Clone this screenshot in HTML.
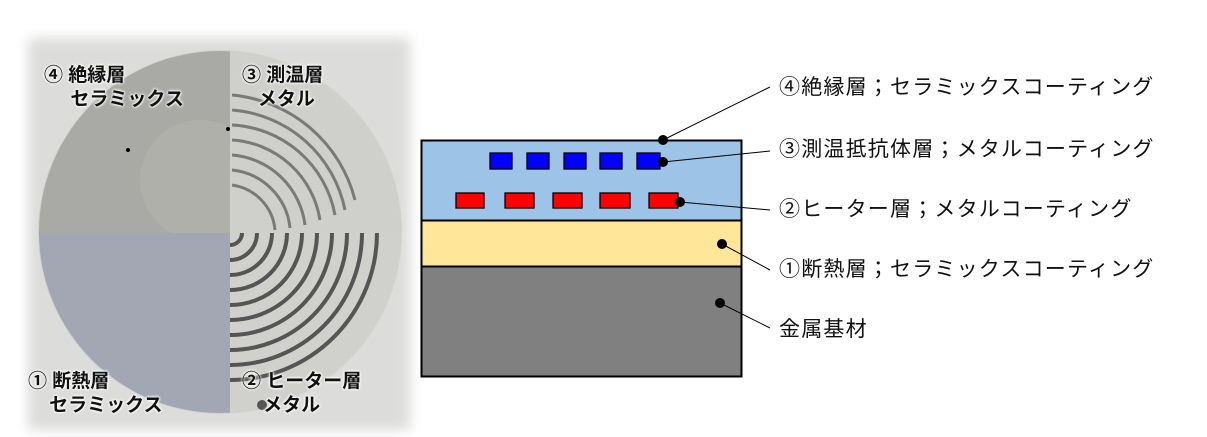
<!DOCTYPE html>
<html><head><meta charset="utf-8"><style>
body{margin:0;width:1207px;height:437px;background:#fff;position:relative;overflow:hidden;font-family:"Liberation Sans","Noto Sans CJK JP",sans-serif}
.lbl{position:absolute;font-size:21px;letter-spacing:1.2px;color:#111;white-space:nowrap;line-height:26px}
.pl{position:absolute;font-weight:bold;font-size:19px;color:#111;line-height:24px;text-shadow:0 0 3px #fff,0 0 3px #fff,0 0 2px #fff}
</style></head><body>
<svg width="1207" height="437" style="position:absolute;left:0;top:0">
<defs>
<filter id="b"><feGaussianBlur stdDeviation="6"/></filter>
<clipPath id="c"><circle cx="220" cy="232" r="181"/></clipPath>
</defs>
<rect x="28" y="38" width="382" height="392" fill="#dcdcda" filter="url(#b)"/>
<circle cx="220" cy="232" r="182" fill="#d2d2cf"/>
<g clip-path="url(#c)">
<rect x="30" y="40" width="200" height="193" fill="#a9a9a5"/>
<circle cx="200" cy="180" r="60" fill="#b5b5ae" opacity=".6"/>
<rect x="230" y="40" width="200" height="193" fill="#cfcfcc"/>
<rect x="30" y="233" width="200" height="200" fill="#a3a7b3"/>
<rect x="230" y="233" width="200" height="200" fill="#d0d0cc"/>
<g fill="none" stroke="#7a7a78" stroke-width="3">
<path d="M232 95 A140 140 0 0 1 355 200"/><path d="M232 110 A125 125 0 0 1 345 210"/><path d="M232 125 A110 110 0 0 1 335 215"/><path d="M232 140 A95 95 0 0 1 320 220"/><path d="M232 155 A80 80 0 0 1 305 225"/><path d="M232 170 A65 65 0 0 1 290 228"/><path d="M232 185 A50 50 0 0 1 275 230"/>
</g>
<g fill="none" stroke="#555" stroke-width="4">
<path d="M230 245 A12 12 0 0 0 242 233"/><path d="M230 260 A27 27 0 0 0 257 233"/><path d="M230 275 A42 42 0 0 0 272 233"/><path d="M230 290 A57 57 0 0 0 287 233"/><path d="M230 305 A72 72 0 0 0 302 233"/><path d="M230 320 A87 87 0 0 0 317 233"/><path d="M230 335 A102 102 0 0 0 332 233"/><path d="M230 350 A117 117 0 0 0 347 233"/><path d="M230 365 A132 132 0 0 0 362 233"/><path d="M230 380 A147 147 0 0 0 377 233"/>
</g>
</g>
<circle cx="128" cy="150" r="2" fill="#000"/><circle cx="228" cy="129" r="2" fill="#000"/>
<circle cx="262" cy="405" r="5" fill="#555"/>
<rect x="421.5" y="140.5" width="320" height="236" fill="#808080" stroke="#000" stroke-width="2"/>
<rect x="421.5" y="140.5" width="320" height="80" fill="#9dc3e6" stroke="#000" stroke-width="2"/>
<rect x="421.5" y="220.5" width="320" height="46" fill="#ffe699" stroke="#000" stroke-width="2"/>
<g fill="#0000ff" stroke="#000" stroke-width="1.3">
<rect x="490" y="153" width="22" height="16"/><rect x="527" y="153" width="22" height="16"/><rect x="564" y="153" width="22" height="16"/><rect x="600" y="153" width="22" height="16"/><rect x="637" y="153" width="23" height="16"/>
</g>
<g fill="#ff0000" stroke="#000" stroke-width="1.3">
<rect x="456" y="193" width="28" height="15"/><rect x="505" y="193" width="29" height="15"/><rect x="553" y="193" width="29" height="15"/><rect x="600" y="193" width="30" height="15"/><rect x="649" y="193" width="29" height="15"/>
</g>
<g stroke="#000" stroke-width="1">
<line x1="663" y1="140" x2="770" y2="87"/><line x1="663" y1="162" x2="770" y2="151"/><line x1="680" y1="202" x2="770" y2="210"/><line x1="722" y1="244" x2="770" y2="270"/><line x1="720" y1="303" x2="770" y2="328"/>
</g>
<g fill="#000"><circle cx="663" cy="140" r="5"/><circle cx="663" cy="162" r="5"/><circle cx="680" cy="202" r="5"/><circle cx="722" cy="244" r="5"/><circle cx="720" cy="303" r="5"/></g>
</svg>
<div class="pl" style="left:44px;top:64px">④ 絶縁層<br>&nbsp;&nbsp;&nbsp;&nbsp;&nbsp;セラミックス</div>
<div class="pl" style="left:242px;top:64px">③ 測温層<br>&nbsp;&nbsp;&nbsp;メタル</div>
<div class="pl" style="left:28px;top:370px">① 断熱層<br>&nbsp;&nbsp;&nbsp;&nbsp;セラミックス</div>
<div class="pl" style="left:242px;top:370px">② ヒーター層<br>&nbsp;&nbsp;&nbsp;&nbsp;メタル</div>
<div class="lbl" style="left:779px;top:75px">④絶縁層；セラミックスコーティング</div>
<div class="lbl" style="left:779px;top:137px">③測温抵抗体層；メタルコーティング</div>
<div class="lbl" style="left:779px;top:197px">②ヒーター層；メタルコーティング</div>
<div class="lbl" style="left:779px;top:257px">①断熱層；セラミックスコーティング</div>
<div class="lbl" style="left:779px;top:317px">金属基材</div>
</body></html>
